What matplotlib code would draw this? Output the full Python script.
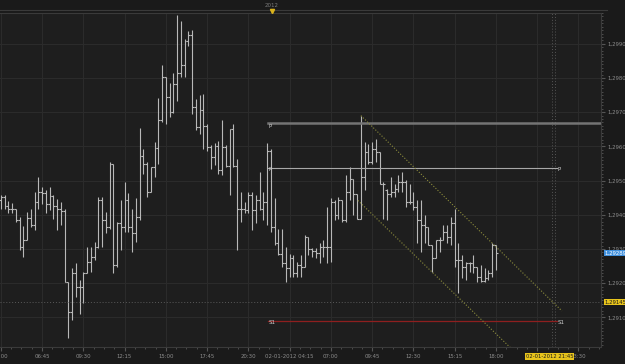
import numpy as np
import matplotlib
matplotlib.use('Agg')
import matplotlib.pyplot as plt
from matplotlib.lines import Line2D

# 15 minute EUR bars (bar index 0 = 04:00)
opens = [
    1.29443, 1.29452, 1.29425, 1.29416, 1.29416, 1.29384, 1.29307, 1.29326, 1.29392, 1.29370,
    1.29438, 1.29467, 1.29464, 1.29431, 1.29454, 1.29425, 1.29416, 1.29412, 1.29205, 1.29117,
    1.29229, 1.29190, 1.29190, 1.29229, 1.29263, 1.29278, 1.29307, 1.29443, 1.29384, 1.29365,
    1.29550, 1.29253, 1.29375, 1.29365, 1.29443, 1.29365, 1.29346, 1.29394, 1.29571, 1.29548,
    1.29467, 1.29540, 1.29595, 1.29676, 1.29802, 1.29744, 1.29700, 1.29783, 1.29814, 1.29839,
    1.29909, 1.29926, 1.29715, 1.29656, 1.29707, 1.29661, 1.29598, 1.29569, 1.29600, 1.29530,
    1.29598, 1.29542, 1.29651, 1.29542, 1.29418, 1.29418, 1.29414, 1.29457, 1.29414, 1.29443,
    1.29418, 1.29438, 1.29588, 1.29365, 1.29317, 1.29287, 1.29258, 1.29244, 1.29273, 1.29229,
    1.29253, 1.29249, 1.29336, 1.29299, 1.29295, 1.29289, 1.29307, 1.29305, 1.29307, 1.29438,
    1.29399, 1.29443, 1.29384, 1.29467, 1.29506, 1.29462, 1.29389, 1.29511, 1.29583, 1.29554,
    1.29593, 1.29583, 1.29491, 1.29472, 1.29462, 1.29467, 1.29477, 1.29496, 1.29496, 1.29438,
    1.29438, 1.29423, 1.29386, 1.29370, 1.29365, 1.29312, 1.29273, 1.29326, 1.29326, 1.29350,
    1.29336, 1.29375, 1.29268, 1.29268, 1.29249, 1.29258, 1.29258, 1.29249, 1.29219, 1.29208,
    1.29215, 1.29229, 1.29312]
highs = [
    1.29457, 1.29457, 1.29441, 1.29435, 1.29418, 1.29394, 1.29367, 1.29409, 1.29416, 1.29467,
    1.29511, 1.29482, 1.29472, 1.29480, 1.29457, 1.29445, 1.29438, 1.29416, 1.29205, 1.29244,
    1.29258, 1.29210, 1.29234, 1.29307, 1.29307, 1.29321, 1.29452, 1.29452, 1.29409, 1.29554,
    1.29550, 1.29380, 1.29443, 1.29496, 1.29464, 1.29416, 1.29448, 1.29653, 1.29593, 1.29554,
    1.29540, 1.29613, 1.29742, 1.29838, 1.29802, 1.29784, 1.29814, 1.29983, 1.29967, 1.29914,
    1.29938, 1.29940, 1.29739, 1.29749, 1.29753, 1.29666, 1.29603, 1.29610, 1.29617, 1.29678,
    1.29603, 1.29651, 1.29666, 1.29564, 1.29467, 1.29438, 1.29467, 1.29467, 1.29457, 1.29525,
    1.29467, 1.29610, 1.29593, 1.29448, 1.29360, 1.29360, 1.29307, 1.29287, 1.29283, 1.29263,
    1.29283, 1.29341, 1.29336, 1.29302, 1.29302, 1.29317, 1.29326, 1.29423, 1.29448, 1.29443,
    1.29452, 1.29443, 1.29516, 1.29540, 1.29506, 1.29462, 1.29690, 1.29613, 1.29608, 1.29613,
    1.29622, 1.29583, 1.29496, 1.29477, 1.29511, 1.29491, 1.29516, 1.29525, 1.29501, 1.29491,
    1.29467, 1.29443, 1.29443, 1.29399, 1.29365, 1.29312, 1.29326, 1.29336, 1.29370, 1.29370,
    1.29394, 1.29418, 1.29317, 1.29283, 1.29263, 1.29263, 1.29283, 1.29249, 1.29253, 1.29244,
    1.29239, 1.29317, 1.29312]
lows = [
    1.29418, 1.29416, 1.29406, 1.29406, 1.29380, 1.29297, 1.29276, 1.29326, 1.29365, 1.29355,
    1.29418, 1.29433, 1.29404, 1.29414, 1.29389, 1.29355, 1.29370, 1.29205, 1.29040, 1.29093,
    1.29161, 1.29111, 1.29142, 1.29229, 1.29234, 1.29268, 1.29302, 1.29307, 1.29346, 1.29360,
    1.29229, 1.29249, 1.29297, 1.29350, 1.29350, 1.29292, 1.29321, 1.29384, 1.29520, 1.29452,
    1.29467, 1.29511, 1.29550, 1.29671, 1.29666, 1.29685, 1.29697, 1.29734, 1.29802, 1.29802,
    1.29894, 1.29695, 1.29647, 1.29637, 1.29593, 1.29588, 1.29535, 1.29545, 1.29520, 1.29516,
    1.29540, 1.29457, 1.29540, 1.29297, 1.29380, 1.29404, 1.29404, 1.29355, 1.29375, 1.29414,
    1.29384, 1.29370, 1.29350, 1.29312, 1.29283, 1.29249, 1.29205, 1.29219, 1.29219, 1.29219,
    1.29219, 1.29249, 1.29283, 1.29278, 1.29273, 1.29258, 1.29278, 1.29258, 1.29263, 1.29384,
    1.29389, 1.29380, 1.29380, 1.29443, 1.29399, 1.29389, 1.29389, 1.29472, 1.29550, 1.29550,
    1.29554, 1.29491, 1.29389, 1.29384, 1.29452, 1.29452, 1.29467, 1.29467, 1.29423, 1.29433,
    1.29414, 1.29317, 1.29292, 1.29317, 1.29312, 1.29234, 1.29273, 1.29292, 1.29326, 1.29317,
    1.29312, 1.29249, 1.29171, 1.29215, 1.29210, 1.29234, 1.29229, 1.29205, 1.29205, 1.29205,
    1.29210, 1.29219, 1.29239]
closes = [
    1.29452, 1.29425, 1.29416, 1.29416, 1.29384, 1.29307, 1.29326, 1.29392, 1.29370, 1.29438,
    1.29467, 1.29464, 1.29431, 1.29454, 1.29425, 1.29416, 1.29412, 1.29205, 1.29117, 1.29229,
    1.29190, 1.29190, 1.29229, 1.29263, 1.29278, 1.29307, 1.29443, 1.29384, 1.29365, 1.29550,
    1.29253, 1.29375, 1.29365, 1.29443, 1.29365, 1.29346, 1.29394, 1.29571, 1.29548, 1.29467,
    1.29540, 1.29595, 1.29676, 1.29802, 1.29744, 1.29700, 1.29783, 1.29814, 1.29839, 1.29909,
    1.29926, 1.29715, 1.29656, 1.29707, 1.29661, 1.29598, 1.29569, 1.29600, 1.29530, 1.29598,
    1.29542, 1.29651, 1.29542, 1.29418, 1.29418, 1.29414, 1.29457, 1.29414, 1.29443, 1.29418,
    1.29438, 1.29588, 1.29365, 1.29317, 1.29287, 1.29258, 1.29244, 1.29273, 1.29229, 1.29253,
    1.29249, 1.29336, 1.29299, 1.29295, 1.29289, 1.29307, 1.29305, 1.29307, 1.29438, 1.29399,
    1.29443, 1.29384, 1.29467, 1.29506, 1.29462, 1.29389, 1.29511, 1.29583, 1.29554, 1.29593,
    1.29583, 1.29491, 1.29491, 1.29462, 1.29467, 1.29477, 1.29496, 1.29496, 1.29438, 1.29438,
    1.29423, 1.29386, 1.29370, 1.29365, 1.29312, 1.29273, 1.29326, 1.29326, 1.29350, 1.29336,
    1.29375, 1.29268, 1.29268, 1.29249, 1.29258, 1.29258, 1.29249, 1.29219, 1.29208, 1.29215,
    1.29229, 1.29312, 1.29289]

# time labels every 11 bars (20:45 sits under the cursor label)
time_labels = ['04:00', '06:45', '09:30', '12:15', '15:00', '17:45', '20:30',
               '02-01-2012 04:15', '07:00', '09:45', '12:30', '15:15', '18:00', '', '23:30']
price_ticks = [1.2910, 1.2920, 1.2930, 1.2940, 1.2950, 1.2960, 1.2970, 1.2980, 1.2990]

# pivot levels and channel
pivot_hi = 1.29668
pivot = 1.29538
s1 = 1.29090
last_price = 1.29289
marker_price = 1.29145
channel_top = [(96, 1.29690), (149.6, 1.29119)]
channel_bot = [(95.2, 1.29442), (150, 1.28862)]
cursor_bar = 147
cursor_label = '02-01-2012 21:45'

bg = '#1e1e1e'
txt = '#8c8c8c'

fig = plt.figure(figsize=(6.25, 3.64), dpi=100, facecolor='#1a1a1a')
ax = fig.add_axes([0, 17 / 364, 601 / 625, 334 / 364])
ax.set_facecolor(bg)

x = np.arange(len(opens))
bar_col = '#b8b8b8'
ax.vlines(x, lows, highs, color=bar_col, lw=0.8)
ax.hlines(opens, x - 0.5, x, color=bar_col, lw=0.8)
ax.hlines(closes, x, x + 0.5, color=bar_col, lw=0.8)

ax.set_xlim(-0.2, 160.0)
ax.set_ylim(1.290137, 1.299875)

# grid
ax.set_yticks(price_ticks)
ax.set_yticklabels([f'{p:.4f}'.replace('.', ',') for p in price_ticks])
ax.set_yticks(np.arange(1.2902, 1.2999, 0.0001), minor=True)
ax.set_xticks(np.arange(0, 11 * len(time_labels), 11))
ax.set_xticklabels(time_labels)
ax.set_xticks(np.arange(0, 160, 2.75), minor=True)
ax.grid(True, which='major', color='#2b2b2b', lw=0.8)
ax.yaxis.tick_right()
ax.tick_params(axis='both', which='both', colors='#555555', labelcolor=txt,
               labelsize=3.9, direction='out')
ax.tick_params(axis='y', which='major', length=3, pad=1.5)
ax.tick_params(axis='y', which='minor', length=1.5)
ax.tick_params(axis='x', which='major', length=3, pad=2)
ax.tick_params(axis='x', which='minor', length=1.5)
for s in ax.spines.values():
    s.set_color('#3a3a3a')
    s.set_linewidth(0.8)
ax.spines['left'].set_visible(False)

# dotted marker line and cursor lines
ax.axhline(marker_price, color='#5a5a5a', lw=0.7, ls=(0, (1, 2)))
ax.axvline(cursor_bar - 0.1, color='#555555', lw=0.7, ls=(0, (1, 2)))
ax.axvline(cursor_bar + 0.8, color='#555555', lw=0.7, ls=(0, (1, 2)))

# pivot lines
ax.plot([71.2, 160], [pivot_hi, pivot_hi], color='#747474', lw=1.8)
ax.plot([71.2, 148.3], [pivot, pivot], color='#a8a8a8', lw=0.8)
ax.plot([71.2, 148.3], [s1, s1], color='#8e1f1f', lw=0.9)
lab = dict(fontsize=4, color='#d0d0d0', va='top', ha='left')
ax.text(71.5, pivot_hi - 0.00003, 'P', **lab)
ax.text(71.5, pivot + 0.00002, 'P', **lab)
ax.text(148.5, pivot + 0.00002, 'P', **lab)
ax.text(71.5, s1 + 0.00002, 'S1', **lab)
ax.text(148.5, s1 + 0.00002, 'S1', **lab)

# channel
for seg in (channel_top, channel_bot):
    ax.plot([seg[0][0], seg[1][0]], [seg[0][1], seg[1][1]], color='#8c8c3c',
            lw=0.8, ls=(0, (1, 1.6)))

# price labels on the right axis
ax.annotate(f'{last_price:.5f}'.replace('.', ','), xy=(1, last_price),
            xycoords=('axes fraction', 'data'), xytext=(2.5, 0), textcoords='offset points',
            va='center', ha='left', fontsize=3.9, color='#ffffff', zorder=5,
            bbox=dict(boxstyle='square,pad=0.15', fc='#3f8fdc', ec='none'))
ax.annotate(f'{marker_price:.5f}'.replace('.', ','), xy=(1, marker_price),
            xycoords=('axes fraction', 'data'), xytext=(2.5, 0), textcoords='offset points',
            va='center', ha='left', fontsize=3.9, color='#1a1a1a', zorder=5,
            bbox=dict(boxstyle='square,pad=0.15', fc='#e8c41c', ec='none'))
ax.annotate(cursor_label, xy=(cursor_bar, 0), xycoords=('data', 'axes fraction'),
            xytext=(-2, -6.8), textcoords='offset points', va='center', ha='center',
            fontsize=3.8, color='#1a1a1a', zorder=5,
            bbox=dict(boxstyle='square,pad=0.12', fc='#e8c41c', ec='none'))

# top strip
fig.add_artist(Line2D([0, 607 / 625], [1 - 9.5 / 364] * 2, color='#3a3a3a', lw=0.8))
fig.text(272 / 625, 1 - 5.5 / 364, '2012', fontsize=4, color='#7a7a7a', ha='center', va='center')
fig.add_artist(Line2D([272 / 625], [1 - 10.5 / 364], marker='v', color='#d9b21c',
                      markersize=3, lw=0))

fig.savefig('out.png', dpi=100, facecolor=fig.get_facecolor())
